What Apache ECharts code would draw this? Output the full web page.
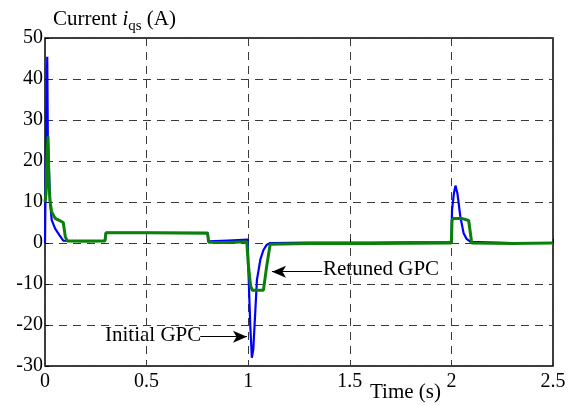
<!DOCTYPE html>
<html>
<head>
<meta charset="utf-8">
<script src="https://cdn.jsdelivr.net/npm/echarts@6/dist/echarts.min.js"></script>
<style>
  html, body { margin: 0; padding: 0; background: #fff; }
  #main { width: 576px; height: 405px; }
</style>
</head>
<body>
<div id="main"></div>
<script>
// Initial GPC (blue)
var tBlue = [0, 0.004, 0.011, 0.014, 0.018, 0.025, 0.033, 0.05, 0.07, 0.09, 0.12, 0.2, 0.295, 0.3, 0.5, 0.8, 0.805, 0.9, 0.998, 1.0, 1.01, 1.018, 1.025, 1.043, 1.06, 1.075, 1.09, 1.108, 1.3, 1.6, 2.0, 2.003, 2.012, 2.02, 2.03, 2.044, 2.06, 2.075, 2.094, 2.3, 2.5];
var vBlue = [0, 20, 45.4, 25, 20, 10, 5.6, 3.5, 2, 0.6, 0.5, 0.5, 0.6, 2.5, 2.5, 2.5, 0.4, 0.6, 0.8, -5, -20, -28, -26, -9, -4, -1.7, -0.5, 0, 0.1, 0.1, 0.2, 8, 12, 14, 12, 6.4, 2.4, 1, 0.3, 0, 0];
// Retuned GPC (green)
var tGreen = [0, 0.005, 0.01, 0.015, 0.02, 0.025, 0.033, 0.05, 0.07, 0.09, 0.1, 0.11, 0.2, 0.295, 0.3, 0.5, 0.8, 0.805, 0.9, 0.993, 1.0, 1.012, 1.02, 1.05, 1.075, 1.09, 1.108, 1.3, 1.6, 2.0, 2.003, 2.01, 2.05, 2.085, 2.1, 2.3, 2.5];
var vGreen = [10, 12, 22, 26, 14, 10, 7.6, 6, 5.5, 5, 1.5, 0.5, 0.4, 0.5, 2.5, 2.5, 2.4, 0.2, 0.1, 0.3, -5, -10.5, -11.5, -11.5, -11.5, -6, -0.3, -0.1, -0.1, 0, 5.5, 6, 6, 5.5, 0, -0.1, 0];

function pairs(t, v) {
    var out = [];
    for (var i = 0; i < t.length; i++) out.push([t[i], v[i]]);
    return out;
}

var font = 'Liberation Serif';
var chart = echarts.init(document.getElementById('main'));
chart.setOption({
    animation: false,
    backgroundColor: '#fff',
    grid: {
        left: 45, right: 23, top: 38, bottom: 39,
        show: true, borderColor: '#000', borderWidth: 1.5
    },
    xAxis: {
        type: 'value', min: 0, max: 2.5, interval: 0.5,
        axisLine: { show: false },
        axisTick: { inside: true, length: 4, lineStyle: { color: '#000' } },
        axisLabel: { color: '#000', fontFamily: font, fontSize: 20, margin: 6 },
        splitLine: { show: true, lineStyle: { color: '#3a3a3a', type: [8, 6], width: 1 } }
    },
    yAxis: {
        type: 'value', min: -30, max: 50, interval: 10,
        axisLine: { show: false },
        axisTick: { inside: true, length: 4, lineStyle: { color: '#000' } },
        axisLabel: { color: '#000', fontFamily: font, fontSize: 20, margin: 2 },
        splitLine: { show: true, lineStyle: { color: '#3a3a3a', type: [8, 6], width: 1 } }
    },
    series: [
        {
            name: 'Initial GPC',
            type: 'line',
            data: pairs(tBlue, vBlue),
            showSymbol: false,
            lineStyle: { color: '#0000ff', width: 2.2 },
            z: 2
        },
        {
            name: 'Retuned GPC',
            type: 'line',
            data: pairs(tGreen, vGreen),
            showSymbol: false,
            lineStyle: { color: '#0a800a', width: 3 },
            z: 3,
            markLine: {
                silent: true,
                symbol: ['none', 'arrow'],
                symbolSize: [9, 14],
                label: { show: false },
                lineStyle: { color: '#000', width: 1, type: 'solid' },
                data: [
                    [{ coord: [0.764, -22.85] }, { coord: [0.994, -22.85] }],
                    [{ coord: [1.364, -7] }, { coord: [1.117, -7] }]
                ]
            }
        }
    ],
    graphic: [
        {
            type: 'text', left: 53, top: 9,
            style: {
                text: '{a|Current }{i|i}{s|qs}{a| (A)}',
                rich: {
                    a: { fontFamily: font, fontSize: 21, fill: '#000', lineHeight: 22, verticalAlign: 'top' },
                    i: { fontFamily: font, fontSize: 21, fontStyle: 'italic', fill: '#000', lineHeight: 22, verticalAlign: 'top' },
                    s: { fontFamily: font, fontSize: 15, fill: '#000', lineHeight: 15, padding: [10, 0, 0, 0], verticalAlign: 'top' }
                }
            }
        },
        {
            type: 'text', left: 105, top: 325,
            style: { text: 'Initial GPC', fontFamily: font, fontSize: 21, fill: '#000' }
        },
        {
            type: 'text', left: 323, top: 259,
            style: { text: 'Retuned GPC', fontFamily: font, fontSize: 21, fill: '#000' }
        },
        {
            type: 'text', left: 370, top: 382,
            style: { text: 'Time (s)', fontFamily: font, fontSize: 21, fill: '#000' }
        }
    ]
});
</script>
</body>
</html>
